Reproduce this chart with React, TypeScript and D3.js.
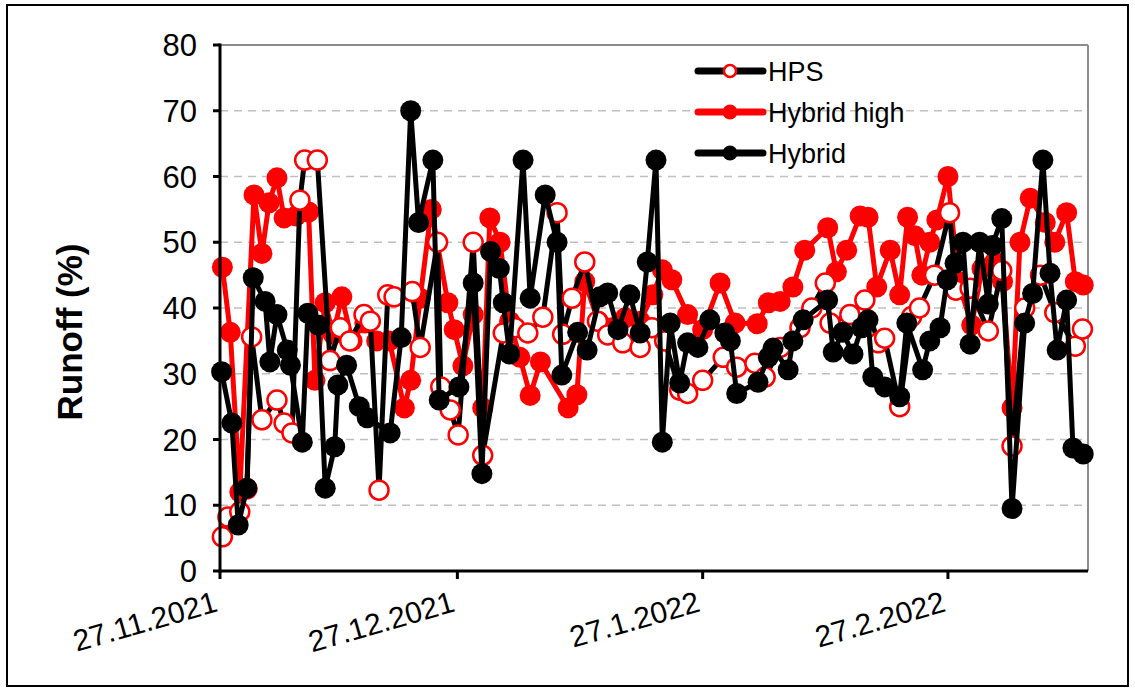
import React from "react";
import * as d3 from "d3";

// Runoff (%) measured per sampling date; positions are days after 27.11.2021.
const startDate = new Date(2021, 10, 27);
const axisEndDays = 109.7;

const hpsDays = [0.3, 1.0, 2.5, 3.4, 4.0, 5.3, 7.2, 8.1, 9.1, 10.1, 10.7, 12.3, 13.9, 15.2, 16.4, 18.2, 19.0, 20.1, 21.2, 22.0, 24.3, 25.3, 27.5, 27.9, 29.1, 30.1, 32.0, 33.2, 35.8, 37.3, 38.9, 40.8, 42.6, 43.3, 44.5, 46.1, 47.7, 49.0, 50.9, 53.1, 54.6, 56.2, 58.1, 59.1, 61.0, 63.6, 65.3, 67.6, 68.9, 70.8, 73.3, 74.8, 76.5, 77.1, 79.6, 81.5, 83.2, 84.0, 85.9, 87.4, 88.4, 90.3, 92.2, 93.0, 94.8, 97.1, 98.8, 100.1, 101.7, 103.7, 105.5, 108.1, 109.0];
const hpsValues = [5.2, 8.2, 9, 12.5, 35.6, 23, 26, 22.5, 21, 56.4, 62.5, 62.5, 32, 37, 35, 39, 38, 12.3, 42, 41.7, 42.5, 34, 50, 28, 24.5, 20.7, 50, 17.6, 36.2, 37, 36.2, 38.6, 54.5, 36, 41.5, 47, 38, 35.9, 34.7, 34, 37, 35, 27.5, 27, 29, 32.5, 31, 31.6, 29.5, 34, 37, 40, 43.8, 37.7, 39, 41.2, 34.7, 35.4, 25, 38.7, 40, 45, 54.5, 42.7, 43, 36.5, 45.7, 19, 40, 45, 39.3, 34.2, 36.8];

const hybridHighDays = [0.3, 1.3, 2.5, 4.3, 5.3, 6.2, 7.2, 8.1, 9.6, 11.2, 12.0, 13.3, 14.3, 15.4, 16.7, 18.3, 19.8, 21.4, 23.3, 24.1, 25.3, 26.7, 28.8, 29.6, 30.7, 32.0, 33.2, 34.1, 35.4, 36.6, 37.9, 39.2, 40.5, 44.0, 45.1, 46.1, 47.8, 49.5, 51.2, 53.1, 54.7, 55.9, 57.1, 59.1, 61.0, 63.2, 65.1, 67.9, 69.3, 70.8, 72.4, 73.9, 76.8, 77.9, 79.2, 80.9, 81.9, 83.0, 84.7, 85.9, 86.9, 87.8, 88.7, 89.7, 90.6, 92.0, 93.3, 95.0, 96.3, 97.9, 98.9, 100.1, 101.1, 102.4, 104.3, 105.5, 107.0, 108.1, 109.1];
const hybridHighValues = [46.2, 36.3, 12, 57.2, 48.3, 56, 59.8, 53.7, 54, 54.6, 29, 40.8, 36, 41.7, 35, 37.7, 35, 35, 24.8, 29, 41.5, 55, 40.8, 36.7, 31.2, 39, 24.8, 53.7, 50, 38, 32.5, 26.7, 31.8, 24.8, 26.8, 44, 38, 37, 38.5, 38, 42, 45.8, 44.3, 39, 36.7, 43.8, 37.7, 37.6, 40.8, 41, 43.2, 48.8, 52.2, 45.5, 48.8, 54, 53.8, 43.2, 48.8, 42, 53.8, 51, 45, 50, 53.4, 60, 44, 37.4, 46, 47, 44, 24.8, 50, 56.7, 53, 50, 54.5, 44, 43.5];

const hybridDays = [0.2, 1.5, 2.3, 3.4, 4.2, 5.7, 6.3, 7.2, 8.5, 8.9, 10.4, 11.1, 12.4, 13.3, 14.5, 14.9, 16.0, 17.6, 18.6, 21.5, 22.9, 24.1, 25.1, 26.9, 27.7, 30.2, 32.0, 33.1, 34.2, 35.3, 35.8, 36.6, 38.3, 39.2, 41.1, 42.6, 43.2, 45.2, 46.4, 48.0, 49.0, 50.3, 51.8, 53.1, 54.0, 55.1, 55.9, 56.9, 58.1, 59.1, 60.4, 61.9, 63.8, 64.5, 65.3, 68.0, 69.3, 69.9, 71.8, 72.4, 73.7, 76.8, 77.5, 78.7, 80.0, 81.1, 81.9, 82.5, 84.0, 85.9, 86.8, 88.8, 89.7, 91.0, 91.9, 92.9, 93.9, 94.8, 96.0, 97.1, 97.6, 98.8, 100.1, 101.7, 102.7, 104.0, 104.9, 105.8, 107.0, 107.8, 109.1];
const hybridValues = [30.3, 22.5, 7, 12.6, 44.6, 41, 31.8, 39, 33.6, 31.3, 19.6, 39.2, 37.4, 12.6, 18.9, 28.3, 31.3, 25, 23.3, 21, 35.5, 70, 53, 62.5, 26, 28, 43.8, 14.8, 48.6, 46, 40.8, 33, 62.5, 41.5, 57.2, 50, 29.8, 36.3, 33.6, 41.7, 42.3, 36.7, 42, 36.2, 47, 62.5, 19.6, 37.7, 28.6, 34.7, 34, 38.2, 36.2, 35, 27, 28.7, 32.5, 33.9, 30.6, 35, 38.2, 41.2, 33.3, 36.3, 33, 37, 38.2, 29.5, 28, 26.5, 37.7, 30.6, 35, 37, 44.3, 46.8, 50, 34.5, 50, 40.6, 49.5, 53.6, 9.5, 37.7, 42.2, 62.5, 45.3, 33.6, 41.2, 18.7, 17.8];

const yTicks = [0, 10, 20, 30, 40, 50, 60, 70, 80];
const xTickDates = [new Date(2021, 10, 27), new Date(2021, 11, 27), new Date(2022, 0, 27), new Date(2022, 1, 27)];
const legendLabels = ["HPS", "Hybrid high", "Hybrid"];

const FONT = "'Liberation Sans', Arial, sans-serif";
const RED = "#ff0000";

const dayToDate = (d: number) => new Date(startDate.getTime() + d * 86400000);

export default function App() {
  const left = 220, right = 1088, top = 45, bottom = 571;
  const x = d3.scaleTime().domain([startDate, dayToDate(axisEndDays)]).range([left, right]);
  const y = d3.scaleLinear().domain([0, 80]).range([bottom, top]);

  type P = { d: number; v: number };
  const zip = (ds: number[], vs: number[]): P[] => ds.map((d, i) => ({ d, v: vs[i] }));
  const hps = zip(hpsDays, hpsValues);
  const high = zip(hybridHighDays, hybridHighValues);
  const hyb = zip(hybridDays, hybridValues);

  const line = d3.line<P>().x((p) => x(dayToDate(p.d))).y((p) => y(p.v));
  const fmt = (dt: Date) => `${dt.getDate()}.${dt.getMonth() + 1}.${dt.getFullYear()}`;

  const lineW = 5;
  const rFill = 10.5;
  const rOpen = 9.5;

  const legendY = [71, 112, 153];

  return (
    <svg width={1135} height={691} style={{ position: "absolute", left: 0, top: 0, background: "#fff" }}>
      <rect x={7} y={5} width={1121} height={681} fill="#fff" stroke="#000" strokeWidth={2} />

      {/* gridlines */}
      {yTicks.filter((t) => t > 0 && t < 80).map((t) => (
        <line key={t} x1={left} x2={right} y1={y(t)} y2={y(t)} stroke="#bfbfbf" strokeWidth={1.5} strokeDasharray="8,6" />
      ))}
      {/* plot frame */}
      <line x1={left} x2={right} y1={top} y2={top} stroke="#8c8c8c" strokeWidth={2} />
      <line x1={right} x2={right} y1={top} y2={bottom} stroke="#8c8c8c" strokeWidth={2} />

      {/* Hybrid high */}
      <path d={line(high) || ""} fill="none" stroke={RED} strokeWidth={lineW} strokeLinejoin="round" />
      {high.map((p, i) => (
        <circle key={"h" + i} cx={x(dayToDate(p.d))} cy={y(p.v)} r={rFill} fill={RED} />
      ))}

      {/* HPS */}
      <path d={line(hps) || ""} fill="none" stroke="#000" strokeWidth={lineW} strokeLinejoin="round" />
      {hps.map((p, i) => (
        <circle key={"p" + i} cx={x(dayToDate(p.d))} cy={y(p.v)} r={rOpen} fill="#fff" stroke={RED} strokeWidth={2.5} />
      ))}

      {/* Hybrid */}
      <path d={line(hyb) || ""} fill="none" stroke="#000" strokeWidth={lineW} strokeLinejoin="round" />
      {hyb.map((p, i) => (
        <circle key={"b" + i} cx={x(dayToDate(p.d))} cy={y(p.v)} r={rFill} fill="#000" />
      ))}

      {/* axes */}
      <line x1={left} x2={left} y1={top - 1.5} y2={bottom + 1.5} stroke="#000" strokeWidth={3} />
      <line x1={left - 1.5} x2={right} y1={bottom} y2={bottom} stroke="#000" strokeWidth={3} />
      {yTicks.map((t) => (
        <g key={"yt" + t}>
          <line x1={left - 7} x2={left} y1={y(t)} y2={y(t)} stroke="#000" strokeWidth={3} />
          <text x={197} y={y(t)} dy="0.36em" textAnchor="end" fontFamily={FONT} fontSize={31} fill="#000">
            {t}
          </text>
        </g>
      ))}
      {xTickDates.map((dt, i) => (
        <g key={"xt" + i}>
          <line x1={x(dt)} x2={x(dt)} y1={bottom} y2={bottom + 8} stroke="#000" strokeWidth={3} />
          <text
            transform={`translate(${x(dt) - 1},${bottom + 40}) rotate(-16)`}
            textAnchor="end"
            fontFamily={FONT}
            fontSize={30}
            fill="#000"
          >
            {fmt(dt)}
          </text>
        </g>
      ))}

      <text
        transform={`translate(82,${(top + bottom) / 2 + 24}) rotate(-90)`}
        textAnchor="middle"
        fontFamily={FONT}
        fontWeight="bold"
        fontSize={35}
        fill="#000"
      >
        Runoff (%)
      </text>

      {/* legend */}
      {legendLabels.map((lab, i) => (
        <g key={lab}>
          <line x1={698} x2={763} y1={legendY[i]} y2={legendY[i]} stroke={i === 1 ? RED : "#000"} strokeWidth={7} strokeLinecap="round" />
          {i === 0 ? (
            <circle cx={730} cy={legendY[i]} r={6} fill="#fff" stroke={RED} strokeWidth={2.5} />
          ) : (
            <circle cx={730} cy={legendY[i]} r={7.5} fill={i === 1 ? RED : "#000"} />
          )}
          <text x={768} y={legendY[i]} dy="0.36em" fontFamily={FONT} fontSize={27} fill="#000">
            {lab}
          </text>
        </g>
      ))}
    </svg>
  );
}
